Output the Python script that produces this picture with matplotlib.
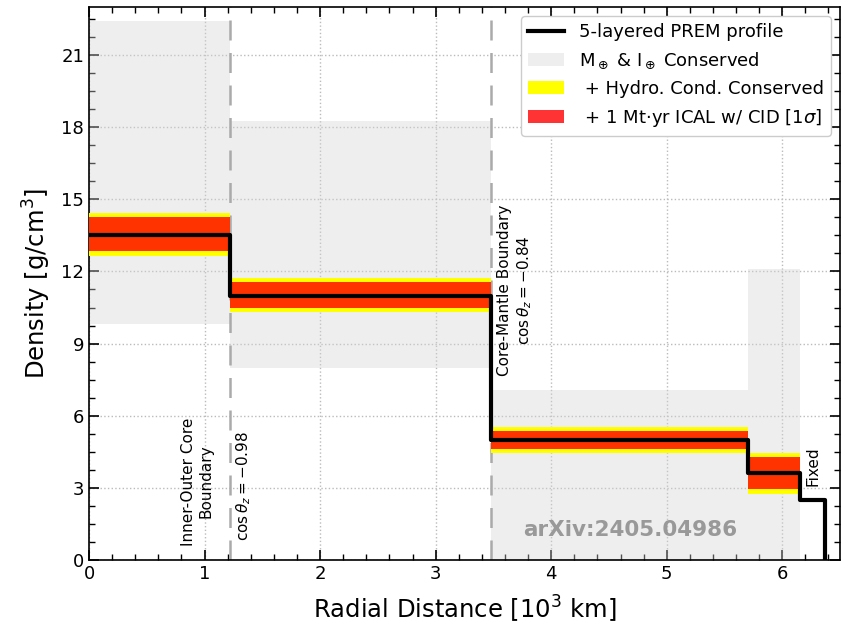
import matplotlib
matplotlib.use('Agg')
from matplotlib import patches
from matplotlib import pyplot as plt
from matplotlib.lines import Line2D
from matplotlib.ticker import MultipleLocator

# Layer boundaries [10^3 km] and PREM densities [g/cm^3]
EDGES = [0.0, 1.221, 3.48, 5.701, 6.151, 6.371]
DENSITY = [13.5, 11.0, 5.0, 3.6, 2.5]

# Mass & moment of inertia conserved ranges (first four layers)
MI_LOW = [9.8, 8.0, 0.0, 0.0]
MI_HIGH = [22.4, 18.25, 7.08, 12.1]

# Hydrostatic condition ranges
HYDRO_LOW = [12.63, 10.32, 4.46, 2.74]
HYDRO_HIGH = [14.43, 11.74, 5.54, 4.44]

# ICAL 1 sigma ranges
ICAL_LOW = [12.85, 10.49, 4.62, 2.95]
ICAL_HIGH = [14.25, 11.57, 5.38, 4.28]

BOUNDARIES = [1.221, 3.48]

fig = plt.figure(figsize=(8.48, 6.24), dpi=100)
ax = fig.add_axes([0.105, 0.1026, 0.8856, 0.8862])

for i in range(4):
    x0, x1 = EDGES[i], EDGES[i + 1]
    ax.fill_between([x0, x1], MI_LOW[i], MI_HIGH[i],
                    color='lightgray', alpha=0.38, lw=0, zorder=1)
    ax.fill_between([x0, x1], HYDRO_LOW[i], HYDRO_HIGH[i],
                    color='yellow', lw=0, zorder=3)
    ax.fill_between([x0, x1], ICAL_LOW[i], ICAL_HIGH[i],
                    color='red', alpha=0.8, lw=0, zorder=4)

for b in BOUNDARIES:
    ax.axvline(b, color='#aaaaaa', ls=(0, (8, 5)), lw=1.8, zorder=2)

# step profile
xs, ys = [], []
for i, d in enumerate(DENSITY):
    xs += [EDGES[i], EDGES[i + 1]]
    ys += [d, d]
xs.append(EDGES[-1])
ys.append(0.0)
ax.plot(xs, ys, color='black', lw=3, zorder=5)

ax.text(0.94, 0.6, 'Inner-Outer Core\nBoundary', rotation=90,
        ha='center', va='bottom', multialignment='center', fontsize=11)
ax.text(1.335, 0.8, r'$\cos\theta_z = -0.98$', rotation=90,
        ha='center', va='bottom', fontsize=11)
ax.text(3.69, 14.8, 'Core-Mantle Boundary\n' + r'$\cos\theta_z = -0.84$',
        rotation=90, ha='center', va='top', multialignment='center',
        fontsize=11)
ax.text(6.27, 3.9, 'Fixed', rotation=90, ha='center', va='center',
        fontsize=11)
ax.text(4.68, 1.25, 'arXiv:2405.04986', ha='center', va='center',
        fontsize=15.5, fontweight='bold', color='#999999', zorder=6)

ax.set_xlim(0, 6.5)
ax.set_ylim(0, 23)
ax.xaxis.set_major_locator(MultipleLocator(1))
ax.xaxis.set_minor_locator(MultipleLocator(0.2))
ax.yaxis.set_major_locator(MultipleLocator(3))
ax.yaxis.set_minor_locator(MultipleLocator(0.75))
ax.tick_params(which='both', direction='in', top=True, right=True,
               labelsize=13)
ax.tick_params(which='major', length=7, width=1.2)
ax.tick_params(which='minor', length=4, width=1)
ax.grid(True, which='major', ls=':', color='#bbbbbb', lw=1)
ax.set_axisbelow(True)
for s in ax.spines.values():
    s.set_linewidth(1.2)

ax.set_xlabel(r'Radial Distance [$10^3$ km]', fontsize=17.5, labelpad=8)
ax.set_ylabel(r'Density [g/cm$^3$]', fontsize=17.5, labelpad=6)

handles = [
    Line2D([], [], color='black', lw=3),
    patches.Patch(color='lightgray', alpha=0.38, lw=0),
    patches.Patch(color='yellow', lw=0),
    patches.Patch(color='red', alpha=0.8, lw=0),
]
labels = [
    '5-layered PREM profile',
    r'M$_\oplus$ & I$_\oplus$ Conserved',
    r' + Hydro. Cond. Conserved',
    r' + 1 Mt$\cdot$yr ICAL w/ CID [1$\sigma$]',
]
ax.legend(handles, labels, loc='upper right', fontsize=13, framealpha=1)

fig.savefig('out.png', dpi=100)
